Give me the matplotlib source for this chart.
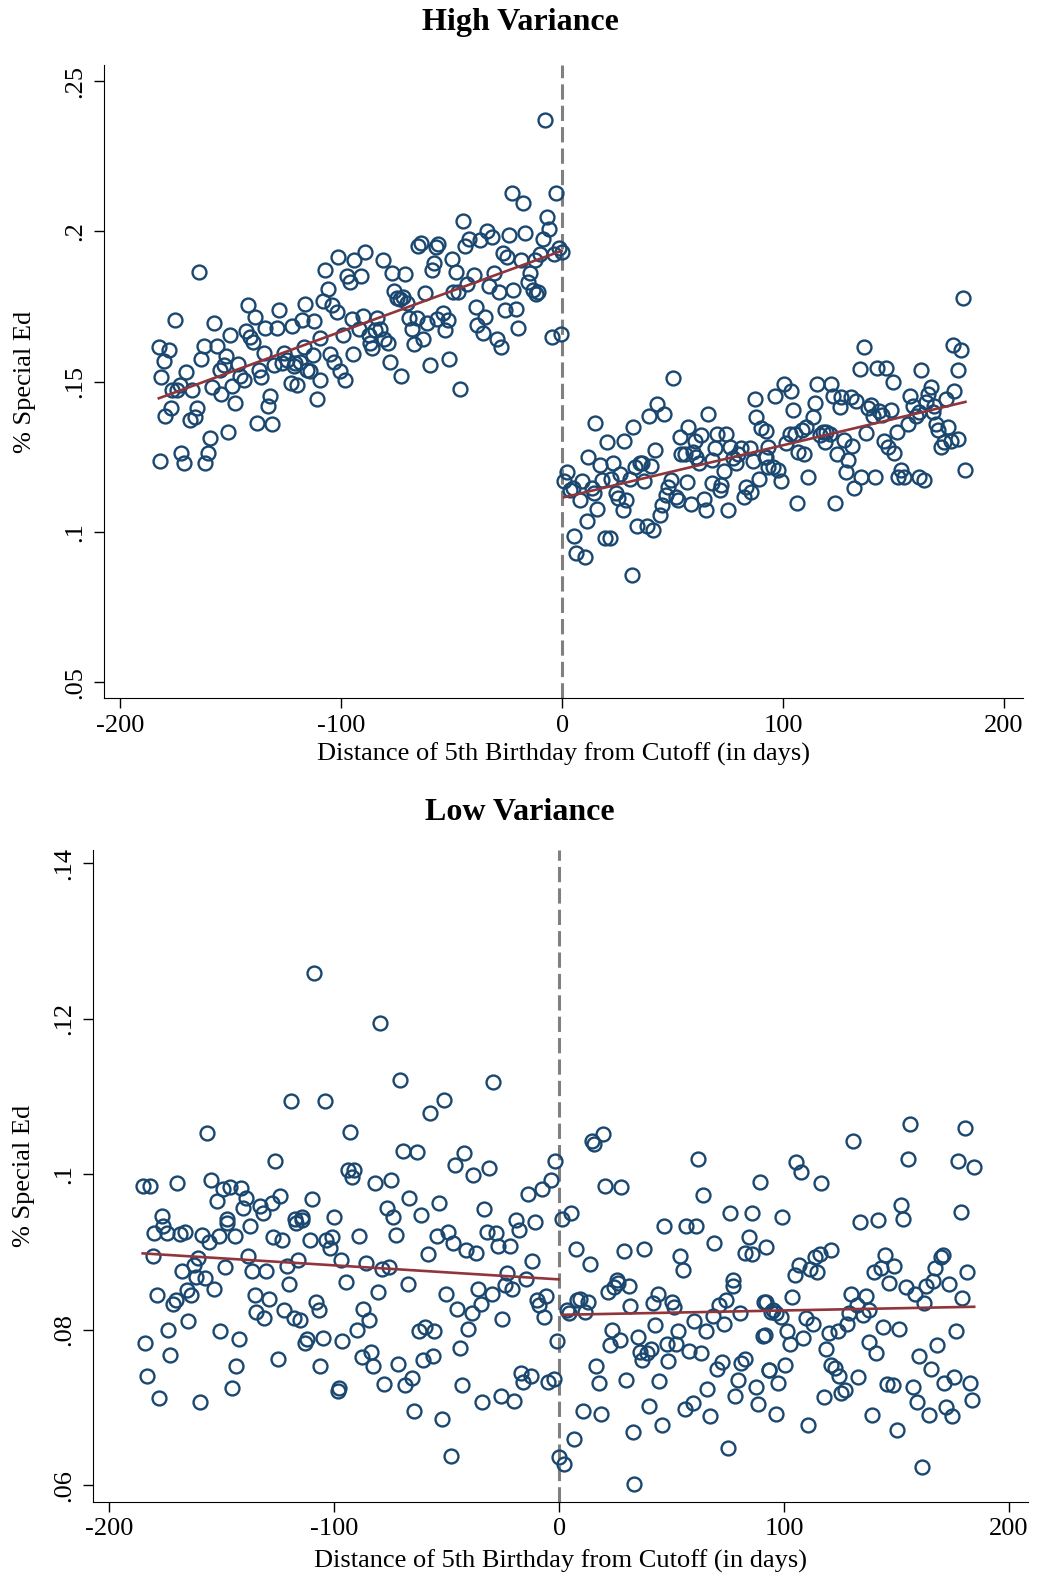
import numpy as np
import matplotlib.pyplot as plt

# (day, share in special ed)
hv_left = [
    (-182.5, .1615), (-178.0, .1606), (-180.3, .1570), (-181.3, .1517), (-175.3, .1706), (-164.1, .1866),
    (-182.1, .1237), (-172.3, .1262), (-171.2, .1231), (-161.4, .1231), (-160.2, .1262), (-159.2, .1312),
    (-151.3, .1334), (-168.5, .1373), (-166.0, .1384), (-165.2, .1412), (-177.2, .1412), (-179.5, .1386),
    (-176.5, .1473), (-174.2, .1473), (-173.0, .1489), (-170.2, .1531), (-167.4, .1473), (-163.4, .1575),
    (-162.2, .1619), (-157.4, .1695), (-156.2, .1619), (-158.4, .1482), (-154.2, .1460), (-151.9, .1584),
    (-150.4, .1655), (-154.6, .1539), (-153.1, .1556), (-147.9, .1429), (-149.4, .1486), (-146.8, .1558),
    (-145.6, .1519), (-143.8, .1506), (-142.3, .1755), (-139.1, .1714), (-142.9, .1668), (-141.1, .1648),
    (-139.9, .1632), (-135.1, .1595), (-134.3, .1680), (-129.0, .1680), (-128.3, .1737), (-132.0, .1453),
    (-133.3, .1420), (-138.1, .1364), (-131.1, .1360), (-137.3, .1539), (-136.3, .1517), (-130.2, .1554),
    (-126.8, .1562), (-126.0, .1595), (-124.5, .1573), (-122.7, .1497), (-120.0, .1490), (-121.5, .1551),
    (-120.7, .1562), (-118.8, .1567), (-117.7, .1706), (-116.2, .1759), (-122.3, .1686), (-117.0, .1617),
    (-115.5, .1539), (-114.0, .1534), (-112.8, .1589), (-112.2, .1701), (-111.0, .1444), (-109.5, .1506),
    (-109.5, .1645), (-108.2, .1767), (-107.2, .1872), (-106.1, .1809), (-104.2, .1756), (-101.9, .1731),
    (-104.9, .1591), (-103.4, .1567), (-100.7, .1534), (-98.1, .1506), (-99.2, .1655), (-101.2, .1916),
    (-97.4, .1850), (-96.2, .1833), (-95.1, .1708), (-94.4, .1905), (-94.7, .1591),
    (-89.1, .1933), (-90.9, .1850), (-89.9, .1719), (-92.1, .1675), (-87.6, .1656), (-86.9, .1628),
    (-86.1, .1611), (-83.9, .1711), (-84.6, .1672), (-82.6, .1675), (-81.1, .1905), (-80.8, .1641),
    (-79.0, .1628), (-78.1, .1564), (-77.1, .1863), (-76.3, .1803), (-74.8, .1778), (-73.3, .1774),
    (-71.8, .1783), (-71.0, .1859), (-70.0, .1763), (-73.0, .1519), (-69.1, .1711), (-68.0, .1675),
    (-65.8, .1711), (-67.0, .1626), (-62.8, .1641), (-62.0, .1796), (-61.0, .1695), (-60.0, .1556),
    (-59.0, .1872), (-58.2, .1896), (-65.0, .1952), (-64.0, .1960), (-57.0, .1949), (-56.0, .1958),
    (-56.4, .1708), (-54.0, .1728), (-53.0, .1672), (-51.5, .1706), (-51.0, .1575), (-50.0, .1907),
    (-48.0, .1866), (-49.2, .1800), (-47.0, .1800), (-46.2, .1475), (-45.0, .2036), (-43.9, .1952),
    (-42.9, .1825), (-42.0, .1974), (-39.9, .1855), (-39.0, .1748), (-38.4, .1689), (-37.2, .1972),
    (-35.9, .1663), (-34.9, .1714), (-34.1, .2000), (-31.9, .1983), (-32.9, .1819), (-29.6, .1641),
    (-28.4, .1800), (-27.8, .1615), (-30.8, .1861), (-26.9, .1927), (-25.1, .1914), (-23.9, .1988),
    (-22.8, .2127), (-22.1, .1805), (-20.9, .1741), (-25.9, .1739), (-19.8, .1678), (-18.8, .1905),
    (-17.9, .2093), (-16.8, .1996), (-15.3, .1833), (-14.6, .1863), (-13.1, .1805), (-11.8, .1792),
    (-10.8, .1800), (-12.3, .1905), (-10.0, .1925), (-8.8, .1974), (-5.8, .2009), (-7.0, .2047),
    (-2.8, .2127), (-7.8, .2371), (-4.8, .1650), (-0.3, .1659), (-1.3, .1944), (-0.2, .1933),
    (-3.7, .1925),
]

hv_right = [
    (2.0, .1201), (0.97, .1171), (3.5, .1140), (5.0, .1145), (8.0, .1106), (9.1, .1171), (11.8, .1248),
    (13.3, .1145), (14.5, .1131), (15.1, .1363), (16.0, .1075), (17.1, .1223), (18.1, .1173), (20.1, .1300),
    (22.1, .1178), (23.1, .1230), (24.2, .1131), (25.1, .1112), (26.1, .1193), (27.6, .1073), (28.1, .1304),
    (29.1, .1106), (30.6, .1178), (32.2, .1348), (32.9, .1215), (34.1, .1020), (35.2, .1228), (36.2, .1230),
    (37.1, .1171), (38.2, .1020), (39.2, .1386), (40.4, .1219), (41.2, .1007), (42.0, .1273), (43.1, .1425),
    (44.2, .1056), (45.3, .1090), (46.2, .1394), (46.8, .1123), (48.0, .1151), (49.2, .1173), (50.2, .1511),
    (51.7, .1117), (52.5, .1106), (53.2, .1315), (54.0, .1261), (55.5, .1261), (56.3, .1167), (57.0, .1348),
    (58.2, .1093), (59.3, .1267), (60.0, .1304), (60.8, .1250), (61.8, .1228), (63.0, .1322), (64.2, .1109),
    (65.3, .1073), (66.0, .1394), (67.6, .1239), (67.9, .1164), (69.1, .1278), (70.3, .1326), (71.3, .1140),
    (72.1, .1156), (73.3, .1204), (74.3, .1326), (75.1, .1073), (75.8, .1284), (77.3, .1245), (78.9, .1230),
    (79.6, .1261), (81.1, .1278), (82.3, .1117), (83.4, .1151), (84.9, .1278), (85.6, .1134), (86.4, .1237),
    (87.1, .1444), (87.9, .1383), (89.0, .1178), (89.9, .1345), (91.7, .1250), (92.4, .1337), (93.2, .1284),
    (11.1, .1038), (5.5, .0987), (6.1, .0929), (10.3, .0918), (19.3, .0979), (21.6, .0979), (31.4, .0856),
    (92.4, .1250), (93.2, .1217), (95.4, .1217), (97.7, .1206), (99.2, .1171), (96.2, .1452), (100.4, .1492),
    (103.4, .1470), (104.5, .1406), (101.5, .1295), (103.0, .1326), (105.2, .1326), (106.7, .1267),
    (108.5, .1341), (109.4, .1259), (110.5, .1348), (111.2, .1182), (113.5, .1383), (114.3, .1430),
    (115.5, .1492), (116.5, .1322), (118.0, .1334), (118.8, .1300), (119.5, .1334), (121.0, .1326),
    (121.5, .1492), (122.5, .1452), (124.5, .1261), (125.6, .1417), (126.3, .1450), (127.5, .1306),
    (129.3, .1239), (128.6, .1201), (131.1, .1286), (130.5, .1448), (133.1, .1437), (132.3, .1145),
    (135.3, .1182), (136.5, .1614), (134.6, .1541), (137.6, .1328), (138.4, .1414), (139.6, .1422),
    (140.6, .1386), (141.4, .1182), (142.6, .1544), (143.6, .1403), (144.7, .1389), (145.6, .1304),
    (146.6, .1547), (147.4, .1284), (148.6, .1406), (149.7, .1500), (150.4, .1264), (151.6, .1334),
    (151.9, .1182), (153.4, .1206), (154.9, .1184), (156.4, .1361), (157.6, .1452), (158.7, .1419),
    (160.2, .1386), (161.3, .1400), (161.7, .1182), (162.5, .1539), (163.7, .1173), (164.7, .1433),
    (165.5, .1459), (166.7, .1481), (167.7, .1400), (168.5, .1419), (169.2, .1359), (170.0, .1339),
    (171.5, .1284), (173.0, .1300), (173.8, .1444), (174.5, .1350), (176.0, .1304), (176.8, .1622),
    (177.5, .1470), (179.0, .1308), (179.3, .1539), (180.5, .1607), (181.6, .1780), (182.5, .1206),
    (106.3, .1095), (123.3, .1097),
]

lv_left = [
    (-108.8, .1259), (-119.1, .1094), (-103.9, .1094), (-156.5, .1053), (-126.5, .1017), (-185.2, .0985),
    (-181.9, .0985), (-169.8, .0989), (-154.6, .0993), (-149.4, .0981), (-146.4, .0984), (-141.3, .0982),
    (-139.3, .0969), (-152.3, .0966), (-140.5, .0957), (-133.1, .0959), (-131.9, .0950), (-127.9, .0963),
    (-124.0, .0972), (-109.8, .0968), (-176.7, .0946), (-147.6, .0942), (-117.6, .0942), (-114.2, .0945),
    (-99.9, .0945),
    (-180.1, .0924), (-176.0, .0933), (-174.5, .0925), (-168.6, .0923), (-166.4, .0926), (-158.6, .0922),
    (-155.6, .0913), (-151.2, .0921), (-147.6, .0937), (-144.2, .0920), (-137.6, .0933), (-127.2, .0919),
    (-123.1, .0916), (-117.2, .0937), (-114.2, .0941), (-111.0, .0916), (-103.6, .0915), (-100.9, .0919),
    (-102.1, .0905), (-96.9, .0890), (-180.7, .0895), (-160.5, .0892), (-162.4, .0883), (-167.9, .0876),
    (-161.5, .0868), (-157.5, .0866), (-148.6, .0881), (-138.3, .0895), (-136.4, .0876), (-130.2, .0875),
    (-121.0, .0882), (-116.1, .0890), (-120.1, .0859), (-153.5, .0852), (-165.6, .0851), (-163.9, .0845),
    (-179.0, .0845), (-170.4, .0838), (-171.9, .0833), (-135.4, .0845), (-129.0, .0839), (-134.6, .0823),
    (-131.4, .0815), (-122.5, .0826), (-118.1, .0815), (-115.1, .0812), (-108.0, .0836), (-106.8, .0826),
    (-164.9, .0811), (-173.8, .0800), (-150.6, .0799), (-142.3, .0788), (-184.1, .0783), (-173.0, .0768),
    (-112.2, .0788), (-113.2, .0783), (-105.1, .0790), (-96.5, .0785), (-125.0, .0763), (-143.5, .0753),
    (-106.2, .0754), (-183.1, .0740), (-145.3, .0725), (-177.8, .0712), (-159.7, .0707), (-98.4, .0721),
    (-97.7, .0725),
    (-79.6, .1195), (-70.8, .1121), (-29.4, .1118), (-57.5, .1079), (-51.1, .1095), (-92.9, .1054),
    (-69.6, .1030), (-63.4, .1029), (-42.3, .1027), (-46.2, .1012), (-38.3, .0999), (-31.2, .1008),
    (-1.6, .1017), (-3.8, .0992), (-7.8, .0981), (-13.7, .0975), (-94.0, .1005), (-91.0, .1006),
    (-92.0, .0996), (-81.7, .0989), (-74.8, .0993), (-66.6, .0969), (-76.7, .0957), (-53.3, .0963),
    (-33.4, .0955), (-73.7, .0945), (-61.5, .0948), (-19.3, .0941), (-10.8, .0939),
    (-88.8, .0921), (-72.5, .0922), (-54.5, .0920), (-49.2, .0926), (-47.1, .0912), (-41.5, .0903),
    (-37.1, .0899), (-31.9, .0926), (-27.9, .0925), (-27.0, .0908), (-22.0, .0908), (-17.9, .0928),
    (-85.8, .0886), (-78.7, .0878), (-75.5, .0881), (-58.5, .0898), (-94.7, .0862), (-80.7, .0849),
    (-67.4, .0859), (-50.4, .0846), (-45.2, .0827), (-38.9, .0821), (-35.9, .0853), (-34.9, .0833),
    (-30.0, .0846), (-23.0, .0873), (-24.0, .0858), (-20.8, .0853), (-14.9, .0865), (-11.9, .0888),
    (-9.7, .0838), (-9.0, .0832), (-5.7, .0843), (-6.8, .0816), (-25.3, .0814), (-40.3, .0801),
    (-87.0, .0827), (-84.7, .0813), (-90.0, .0800), (-62.5, .0799), (-59.5, .0804), (-55.5, .0798),
    (-44.2, .0776), (-87.6, .0765), (-83.6, .0772), (-82.9, .0753), (-71.8, .0756), (-60.4, .0761),
    (-56.3, .0766), (-0.9, .0785), (-77.7, .0730), (-68.4, .0729), (-65.4, .0738), (-43.3, .0729),
    (-17.1, .0745), (-16.1, .0733), (-12.7, .0741), (-4.9, .0733), (-2.3, .0737), (-34.1, .0707),
    (-26.0, .0715), (-20.1, .0709), (-64.4, .0695), (-52.2, .0685), (-48.2, .0638), (-0.2, .0636),
]

lv_right = [
    (14.6, .1043), (15.4, .1039), (19.5, .1052), (61.9, .1019), (20.6, .0985), (27.5, .0984), (64.1, .0973),
    (89.3, .0990), (1.3, .0943), (5.3, .0950), (46.7, .0933), (56.5, .0933), (60.9, .0933), (76.0, .0950),
    (86.0, .0950), (68.9, .0912), (84.5, .0919), (7.3, .0904), (13.6, .0885), (28.7, .0901), (37.8, .0904),
    (53.8, .0895), (55.0, .0877), (82.6, .0899), (85.6, .0898), (92.2, .0906), (25.7, .0864), (77.4, .0864),
    (3.3, .0826), (4.3, .0821), (8.0, .0838), (9.5, .0839), (11.7, .0823), (12.7, .0836), (21.6, .0848),
    (24.2, .0855), (26.0, .0860), (30.9, .0856), (31.6, .0830), (41.7, .0835), (43.8, .0846), (50.1, .0836),
    (51.1, .0829), (68.3, .0818), (71.2, .0832), (74.2, .0838), (77.4, .0856), (73.3, .0808), (80.4, .0821),
    (91.0, .0836), (94.4, .0823), (23.5, .0800), (22.5, .0781), (26.9, .0787), (42.7, .0806), (34.9, .0791),
    (35.8, .0772), (36.8, .0761), (39.3, .0770), (40.8, .0775), (47.9, .0782), (52.0, .0782), (53.1, .0798),
    (48.6, .0760), (58.0, .0773), (63.0, .0770), (60.0, .0811), (65.3, .0798), (70.1, .0749), (72.3, .0758),
    (81.1, .0757), (82.6, .0762), (79.7, .0735), (78.2, .0715), (87.5, .0726), (88.5, .0705), (90.5, .0792),
    (93.4, .0748), (16.6, .0754), (17.6, .0732), (29.9, .0736), (44.6, .0734), (65.9, .0724), (10.7, .0696),
    (18.6, .0692), (39.8, .0702), (56.0, .0698), (59.4, .0706), (67.1, .0689), (45.7, .0677), (32.8, .0668),
    (6.5, .0659), (75.2, .0648), (2.3, .0627), (33.4, .0602),
    (156.2, .1064), (180.6, .1059), (130.9, .1043), (105.5, .1016), (107.7, .1003), (116.6, .0989),
    (155.0, .1020), (177.6, .1017), (184.6, .1009), (152.1, .0960), (153.1, .0943), (178.7, .0951),
    (99.3, .0945), (133.9, .0939), (141.7, .0941), (106.7, .0883), (111.7, .0878), (114.7, .0874),
    (113.6, .0893), (115.9, .0898), (121.0, .0903), (104.8, .0871), (145.1, .0896), (149.1, .0882),
    (143.2, .0879), (140.2, .0874), (167.3, .0880), (169.8, .0894), (170.8, .0896), (181.2, .0874),
    (92.2, .0836), (95.2, .0826), (96.4, .0822), (98.9, .0817), (103.7, .0842), (109.7, .0815),
    (112.9, .0808), (129.9, .0846), (136.3, .0844), (132.4, .0832), (128.9, .0821), (135.1, .0819),
    (137.7, .0826), (128.0, .0808), (146.9, .0860), (154.3, .0855), (158.4, .0846), (163.1, .0856),
    (166.4, .0863), (162.4, .0835), (173.5, .0859), (179.4, .0841), (91.5, .0793), (101.4, .0799),
    (102.6, .0782), (108.5, .0790), (120.0, .0796), (124.0, .0799), (118.8, .0775), (144.2, .0804),
    (151.0, .0801), (138.0, .0784), (141.0, .0770), (176.4, .0798), (168.3, .0781), (160.2, .0766),
    (165.4, .0749), (100.3, .0755), (93.4, .0748), (97.4, .0732), (121.0, .0755), (122.5, .0751),
    (124.7, .0740), (132.9, .0739), (125.5, .0719), (127.0, .0722), (117.6, .0713), (145.7, .0730),
    (148.4, .0729), (157.2, .0727), (171.3, .0731), (175.7, .0739), (182.7, .0732), (159.0, .0707),
    (164.3, .0691), (172.3, .0701), (174.7, .0689), (183.5, .0710), (96.4, .0692), (110.7, .0677),
    (139.2, .0691), (150.1, .0671), (161.4, .0624),
]

xticks = [-200, -100, 0, 100, 200]
hv_yticks = [.05, .1, .15, .2, .25]
hv_ylabels = ['.05', '.1', '.15', '.2', '.25']
lv_yticks = [.06, .08, .1, .12, .14]
lv_ylabels = ['.06', '.08', '.1', '.12', '.14']

navy = '#1a476f'
maroon = '#90353b'

plt.rcParams['font.family'] = ['Liberation Serif', 'DejaVu Serif']

fig = plt.figure(figsize=(10.41, 15.77), dpi=100)
ax1 = fig.add_axes([0.0995, 0.5574, 0.8831, 0.4011])
ax2 = fig.add_axes([0.0889, 0.0478, 0.8985, 0.4133])


def panel(ax, left, right, ylim, yticks, ylabels, ypad, xpad):
    ax.axvline(0, color='#808080', lw=2.2, ls=(0, (5, 2)), zorder=1)
    for pts in (left, right):
        a = np.array(pts)
        ax.plot(a[:, 0], a[:, 1], 'o', mfc='none', mec=navy, ms=10, mew=1.7, zorder=2)
        b = np.polyfit(a[:, 0], a[:, 1], 1)
        xs = np.array([a[:, 0].min(), a[:, 0].max()])
        ax.plot(xs, np.polyval(b, xs), color=maroon, lw=1.9, zorder=3)
    ax.set_xlim(-207.5, 208.5)
    ax.set_ylim(*ylim)
    ax.set_xticks(xticks)
    ax.set_xticklabels([str(t) for t in xticks], fontsize=19)
    ax.set_yticks(yticks)
    ax.set_yticklabels(ylabels, fontsize=19, rotation=90, va='center')
    ax.spines['top'].set_visible(False)
    ax.spines['right'].set_visible(False)
    ax.tick_params(direction='out', length=7, width=1)
    ax.tick_params(axis='y', pad=5.5)
    ax.tick_params(axis='x', pad=5)
    ax.set_xlabel('Distance of 5th Birthday from Cutoff (in days)', fontsize=19, labelpad=xpad)
    ax.set_ylabel('% Special Ed', fontsize=19, labelpad=ypad)


panel(ax1, hv_left, hv_right, (.0448, .2552), hv_yticks, hv_ylabels, 20, 4)
panel(ax2, lv_left, lv_right, (.0579, .1417), lv_yticks, lv_ylabels, 13, 6.5)

fig.text(0.4995, 1 - 22 / 1568, 'High Variance', ha='center', va='center', fontsize=23, fontweight='bold')
fig.text(0.4995, 1 - 808 / 1568, 'Low Variance', ha='center', va='center', fontsize=23, fontweight='bold')

fig.savefig('out.png', dpi=100)
